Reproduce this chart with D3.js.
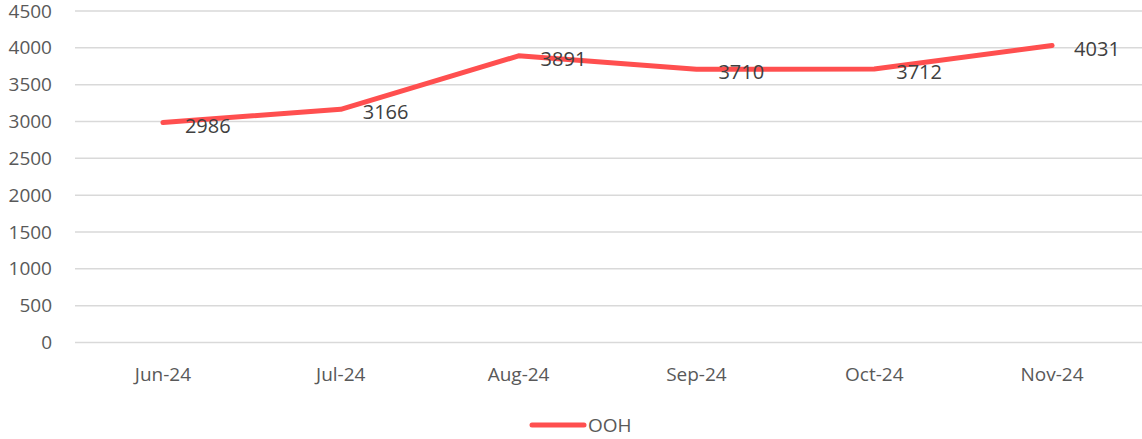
<!DOCTYPE html>
<html>
<head>
<meta charset="utf-8">
<script src="https://cdn.jsdelivr.net/npm/d3@7"></script>
<style>
  body { margin: 0; background: #fff; }
  svg { display: block; font-family: 'Open Sans', 'Noto Sans', sans-serif; }
</style>
</head>
<body>
<svg id="chart"></svg>
<script>
// data
const months = ['Jun-24', 'Jul-24', 'Aug-24', 'Sep-24', 'Oct-24', 'Nov-24']
const oohValues = [2986, 3166, 3891, 3710, 3712, 4031]
const yTicks = [0, 500, 1000, 1500, 2000, 2500, 3000, 3500, 4000, 4500]
const seriesName = 'OOH'

const width = 1142
const height = 439
const lineColor = '#ff4f4f'

const svg = d3.select('#chart')
  .attr('width', width)
  .attr('height', height)

const x = d3.scaleBand()
  .domain(months)
  .range([74, 1141])

const y = d3.scaleLinear()
  .domain([0, 4500])
  .range([342.5, 11])

// gridlines
svg.selectAll('.grid')
  .data(yTicks)
  .enter().append('line')
  .attr('class', 'grid')
  .attr('x1', 75)
  .attr('x2', width)
  .attr('y1', d => y(d))
  .attr('y2', d => y(d))
  .style('stroke', '#d9d9d9')
  .style('stroke-width', 1.5)

// y tick labels
svg.selectAll('.ylab')
  .data(yTicks)
  .enter().append('text')
  .attr('class', 'ylab')
  .attr('x', 52)
  .attr('y', d => y(d))
  .attr('dy', '0.35em')
  .attr('text-anchor', 'end')
  .style('font-size', '19px')
  .style('fill', '#595959')
  .text(d => d)

// x tick labels
svg.selectAll('.xlab')
  .data(months)
  .enter().append('text')
  .attr('class', 'xlab')
  .attr('x', d => x(d) + x.bandwidth() / 2)
  .attr('y', 374)
  .attr('dy', '0.35em')
  .attr('text-anchor', 'middle')
  .style('font-size', '19px')
  .style('fill', '#595959')
  .text(d => d)

const data = months.map((m, i) => ({ month: m, value: oohValues[i] }))

const line = d3.line()
  .x(d => x(d.month) + x.bandwidth() / 2)
  .y(d => y(d.value))

svg.append('path')
  .datum(data)
  .attr('d', line)
  .style('fill', 'none')
  .style('stroke', lineColor)
  .style('stroke-width', 5)
  .style('stroke-linecap', 'round')
  .style('stroke-linejoin', 'round')

// value labels, to the right of each point
svg.selectAll('.vlab')
  .data(data)
  .enter().append('text')
  .attr('class', 'vlab')
  .attr('x', d => x(d.month) + x.bandwidth() / 2 + 22)
  .attr('y', d => y(d.value) + 3)
  .attr('dy', '0.35em')
  .style('font-size', '20px')
  .style('fill', '#404040')
  .text(d => d.value)

// legend
const legend = svg.append('g').attr('transform', 'translate(530,425)')
legend.append('line')
  .attr('x1', 2)
  .attr('x2', 54)
  .style('stroke', lineColor)
  .style('stroke-width', 5)
  .style('stroke-linecap', 'round')
legend.append('text')
  .attr('x', 58)
  .attr('dy', '0.35em')
  .style('font-size', '19px')
  .style('fill', '#595959')
  .text(seriesName)
</script>
</body>
</html>
